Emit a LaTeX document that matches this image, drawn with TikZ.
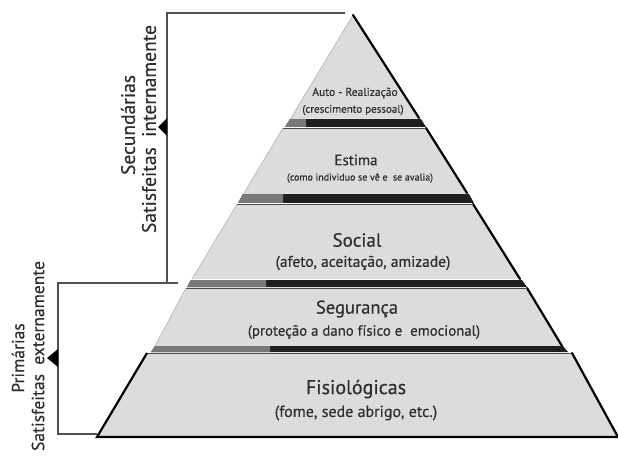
\documentclass[tikz,border=0pt]{standalone}
\usepackage{fontspec}
\setmainfont{PT Sans}[FakeBold=0.35]
\definecolor{pfill}{RGB}{220,220,220}
\definecolor{ptext}{RGB}{45,45,45}
\definecolor{bandgray}{RGB}{120,120,120}
\definecolor{bracket}{RGB}{80,80,80}
\begin{document}
\begin{tikzpicture}[x=1pt,y=-1pt,
  level/.style={fill=pfill,draw=none},
  band/.style={fill=black!88,draw=none},
  bandlight/.style={fill=bandgray,draw=none},
  redge/.style={draw=black,line width=2.2pt,line cap=round},
  ledge/.style={draw=black!30,line width=0.6pt},
  topline/.style={draw=black!70,line width=0.6pt},
  brk/.style={draw=bracket,line width=1.1pt},
  marker/.style={fill=black},
  ttl/.style={text=ptext,inner sep=0pt,anchor=center},
  vlab/.style={text=ptext,inner sep=0pt,rotate=90,font=\fontsize{19.5}{21}\selectfont}
]
\useasboundingbox (0,0) rectangle (618,457);
\clip (0,0) rectangle (618,457);

% level 1 (apex)
\fill[level] (353,15) -- (419,118) -- (291,118) -- cycle;
% band 1
\fill[band] (290,119) -- (421,119) -- (426,127) -- (285,127) -- cycle;
\fill[bandlight] (290,119) -- (306,119) -- (306,127) -- (285,127) -- cycle;
% level 2
\fill[level] (283,128) -- (426,128) -- (467,193) -- (244,193) -- cycle;
% band 2
\fill[band] (243,194) -- (469,194) -- (474,203) -- (238,203) -- cycle;
\fill[bandlight] (243,194) -- (283,194) -- (283,203) -- (238,203) -- cycle;
% level 3
\fill[level] (237,204) -- (473,204) -- (520,279) -- (192,279) -- cycle;
% band 3
\fill[band] (191,280) -- (522,280) -- (527,287) -- (187,287) -- cycle;
\fill[bandlight] (191,280) -- (266,280) -- (266,287) -- (187,287) -- cycle;
% level 4
\fill[level] (186,288) -- (527,288) -- (562,346) -- (155,346) -- cycle;
% band 4
\fill[band] (155,346) -- (563,346) -- (568,352) -- (151,352) -- cycle;
\fill[bandlight] (155,346) -- (270,346) -- (270,352) -- (151,352) -- cycle;
% level 5
\fill[level] (147,353) -- (572,353) -- (618,437) -- (97,437) -- cycle;

% edges
\draw[ledge] (353,15) -- (291,118);
\draw[ledge] (283,128) -- (244,193);
\draw[ledge] (237,204) -- (192,279);
\draw[ledge] (186,288) -- (155,346);
\draw[redge] (353,15) -- (419,118);
\draw[redge] (426,128) -- (467,193);
\draw[redge] (473,204) -- (520,279);
\draw[redge] (527,288) -- (562,346);
\draw[redge] (572,353) -- (618,437);
\draw[topline] (283,128) -- (426,128);
\draw[topline] (237,204) -- (473,204);
\draw[topline] (186,288) -- (527,288);
\draw[topline] (147,353) -- (572,353);
\draw[draw=black,line width=2.2pt] (147,353) -- (97,437) -- (618,437);

% labels
\node[ttl,font=\fontsize{11.5}{13}\selectfont] (l1a) at (355,93) {Auto - Realização};
\node[ttl,font=\fontsize{11}{13}\selectfont] (l1b) at (353,110) {(crescimento pessoal)};
\node[ttl,font=\fontsize{15}{17}\selectfont] (l2a) at (356,160) {Estima};
\node[ttl,font=\fontsize{10}{12}\selectfont] (l2b) at (360,178) {(como individuo se vê e~ se avalia)};
\node[ttl,font=\fontsize{19}{21}\selectfont] (l3a) at (357,240) {Social};
\node[ttl,font=\fontsize{15.5}{17}\selectfont] (l3b) at (363,263) {(afeto, aceitação, amizade)};
\node[ttl,font=\fontsize{18.5}{20}\selectfont] (l4a) at (357,309) {Segurança};
\node[ttl,font=\fontsize{14.8}{17}\selectfont] (l4b) at (364,332) {(proteção a dano físico e~ emocional)};
\node[ttl,font=\fontsize{20}{22}\selectfont] (l5a) at (356,389) {Fisiológicas};
\node[ttl,font=\fontsize{16}{18}\selectfont] (l5b) at (356,413) {(fome, sede abrigo, etc.)};

% brackets
\coordinate (s1) at (345,13);
\coordinate (s2) at (167,13);
\coordinate (s3) at (167,282);
\draw[brk] (s1) -- (s2) -- (s3);
\fill[marker] (167,118) -- (167,136) -- (158,127) -- cycle;
\coordinate (p1) at (178,283);
\coordinate (p2) at (58,283);
\coordinate (p3) at (58,434);
\coordinate (p4) at (97,434);
\draw[brk] (p1) -- (p2) -- (p3) -- (p4);
\fill[marker] (58,349) -- (58,367) -- (47,358) -- cycle;

\node[vlab] (sec) at (128,125) {Secundárias};
\node[vlab] (sint) at (149,129) {Satisfeitas~ internamente};
\node[vlab,font=\fontsize{17.5}{19}\selectfont] (pri) at (18,358) {Primárias};
\node[vlab,font=\fontsize{17.5}{19}\selectfont] (sext) at (38,356) {Satisfeitas~ externamente};
\end{tikzpicture}
\end{document}
